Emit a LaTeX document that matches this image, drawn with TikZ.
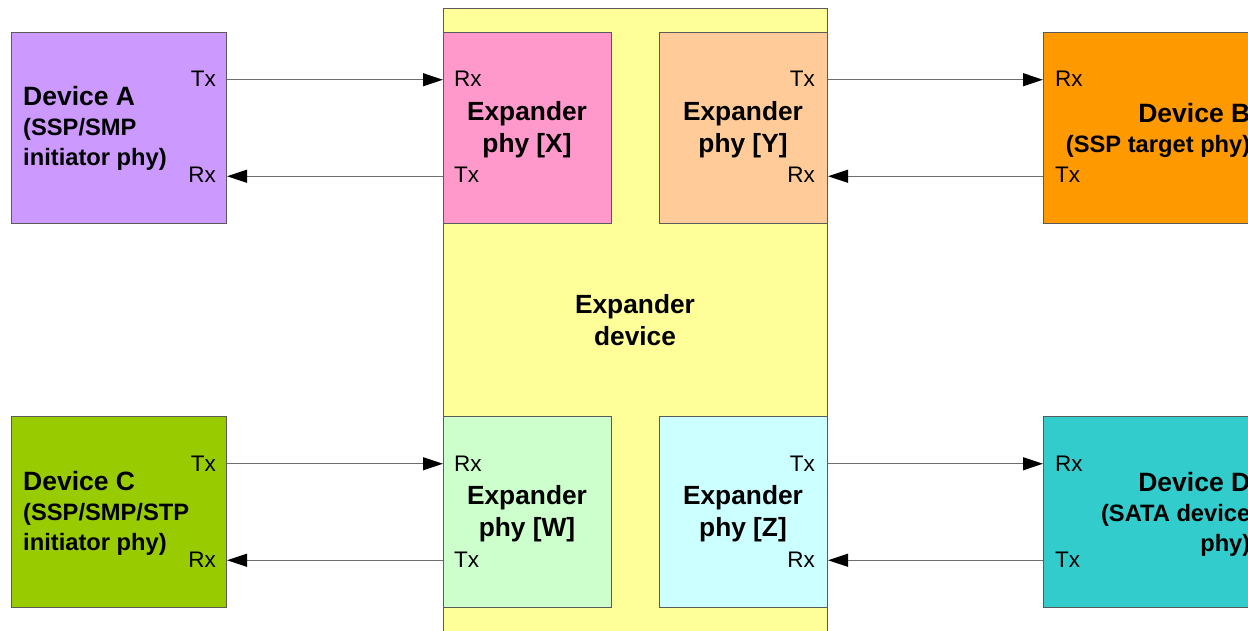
\documentclass[tikz,border=0pt]{standalone}
\usepackage{fontspec}
\setmainfont{Liberation Sans}
\usetikzlibrary{arrows.meta}
\definecolor{devA}{HTML}{CC99FF}
\definecolor{phyX}{HTML}{FF99CC}
\definecolor{phyY}{HTML}{FFCC99}
\definecolor{devB}{HTML}{FF9900}
\definecolor{devC}{HTML}{99CC00}
\definecolor{phyW}{HTML}{CCFFCC}
\definecolor{phyZ}{HTML}{CCFFFF}
\definecolor{devD}{HTML}{33CCCC}
\definecolor{expd}{HTML}{FFFF99}
\definecolor{edge}{HTML}{5A5A5A}
\definecolor{wire}{HTML}{6E6E6E}
\begin{document}
\begin{tikzpicture}[x=1pt,y=-1pt,
  box/.style={draw=edge, line width=1pt, rectangle, anchor=north west, inner sep=0pt, minimum height=191pt},
  devbox/.style={box, minimum width=215pt},
  phybox/.style={box, minimum width=168pt},
  arr/.style={draw=wire, line width=1.2pt, -{Triangle[length=20pt,width=13pt,color=black,fill=black]}},
  port/.style={inner sep=0pt, font=\fontsize{22.5}{25}\selectfont},
  blk/.style={inner sep=0pt, font=\fontsize{23.7}{30}\selectfont\bfseries},
  phytxt/.style={inner sep=0pt, align=center, font=\fontsize{26.3}{32}\selectfont\bfseries},
]
\useasboundingbox (0,0) rectangle (1248,631);
\clip (0,0) rectangle (1248,631);
% expander device
\node[box, fill=expd, minimum width=384pt, minimum height=680pt] (E) at (443,8) {};
\node[phytxt] (Et) at (635,320) {Expander\\device};
% boxes
\node[devbox, fill=devA] (A) at (11,32) {};
\node[phybox, fill=phyX] (X) at (443,32) {};
\node[phybox, fill=phyY] (Y) at (659,32) {};
\node[box, fill=devB, minimum width=300pt] (B) at (1043,32) {};
\node[devbox, fill=devC] (C) at (11,416) {};
\node[phybox, fill=phyW] (W) at (443,416) {};
\node[phybox, fill=phyZ] (Z) at (659,416) {};
\node[box, fill=devD, minimum width=300pt] (D) at (1043,416) {};
% texts
\node[blk, anchor=west, align=left] (At) at (23,128.5) {{\fontsize{26.5}{30}\selectfont Device A}\\(SSP/SMP\\initiator phy)};
\node[blk, anchor=west, align=left] (Ct) at (23,513.5) {{\fontsize{26.5}{30}\selectfont Device C}\\(SSP/SMP/STP\\initiator phy)};
\node[blk, anchor=east, align=right] (Bt) at (1250.5,130.5) {{\fontsize{26.5}{30}\selectfont Device B}\\(SSP target phy)};
\node[blk, anchor=east, align=right] (Dt) at (1250.5,514) {{\fontsize{26.5}{30}\selectfont Device D}\\(SATA device\\phy)};
\node[phytxt] (Xt) at (527,130) {Expander\\phy [X]};
\node[phytxt] (Yt) at (743,130) {Expander\\phy [Y]};
\node[phytxt] (Wt) at (527,514) {Expander\\phy [W]};
\node[phytxt] (Zt) at (743,514) {Expander\\phy [Z]};
% ports
\node[port, anchor=base east] (ATx) at (216,87) {Tx};
\node[port, anchor=base east] (ARx) at (216,183) {Rx};
\node[port, anchor=base west] (XRx) at (454,87) {Rx};
\node[port, anchor=base west] (XTx) at (454,183) {Tx};
\node[port, anchor=base east] (YTx) at (815,87) {Tx};
\node[port, anchor=base east] (YRx) at (815,183) {Rx};
\node[port, anchor=base west] (BRx) at (1055,87) {Rx};
\node[port, anchor=base west] (BTx) at (1055,183) {Tx};
\node[port, anchor=base east] (CTx) at (216,471) {Tx};
\node[port, anchor=base east] (CRx) at (216,567) {Rx};
\node[port, anchor=base west] (WRx) at (454,471) {Rx};
\node[port, anchor=base west] (WTx) at (454,567) {Tx};
\node[port, anchor=base east] (ZTx) at (815,471) {Tx};
\node[port, anchor=base east] (ZRx) at (815,567) {Rx};
\node[port, anchor=base west] (DRx) at (1055,471) {Rx};
\node[port, anchor=base west] (DTx) at (1055,567) {Tx};
% connectors
\draw[arr] ([yshift=-47.75pt]A.north east) -- ([yshift=-47.75pt]X.north west);
\draw[arr] ([yshift=47.75pt]X.south west) -- ([yshift=47.75pt]A.south east);
\draw[arr] ([yshift=-47.75pt]Y.north east) -- ([yshift=-47.75pt]B.north west);
\draw[arr] ([yshift=47.75pt]B.south west) -- ([yshift=47.75pt]Y.south east);
\draw[arr] ([yshift=-47.75pt]C.north east) -- ([yshift=-47.75pt]W.north west);
\draw[arr] ([yshift=47.75pt]W.south west) -- ([yshift=47.75pt]C.south east);
\draw[arr] ([yshift=-47.75pt]Z.north east) -- ([yshift=-47.75pt]D.north west);
\draw[arr] ([yshift=47.75pt]D.south west) -- ([yshift=47.75pt]Z.south east);
\end{tikzpicture}
\end{document}
